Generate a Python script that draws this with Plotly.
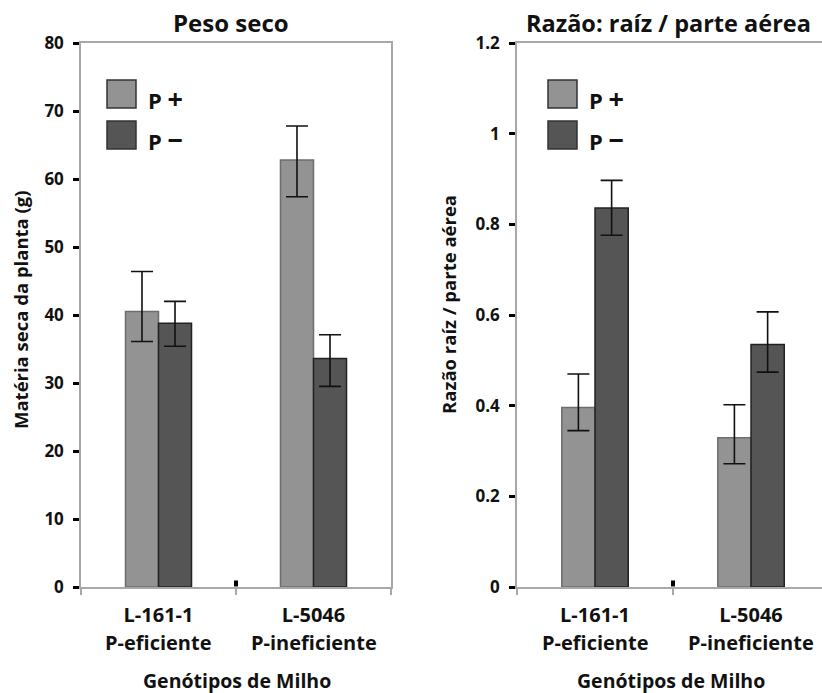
import plotly.graph_objects as go

# ---------------- data ----------------
genotypes = ["L-161-1", "L-5046"]
genotype_sub = ["P-eficiente", "P-ineficiente"]
series_names = ["P <span style='font-size:27px'>+</span>", "P <span style='font-size:27px'>−</span>"]

# Peso seco (g)
dry_p_plus = [40.5, 62.8]
dry_p_plus_up = [5.9, 5.0]
dry_p_plus_dn = [4.4, 5.4]
dry_p_minus = [38.8, 33.6]
dry_p_minus_up = [3.2, 3.5]
dry_p_minus_dn = [3.4, 4.1]

# Razão raíz / parte aérea
ratio_p_plus = [0.396, 0.329]
ratio_p_plus_up = [0.074, 0.073]
ratio_p_plus_dn = [0.051, 0.057]
ratio_p_minus = [0.836, 0.535]
ratio_p_minus_up = [0.061, 0.072]
ratio_p_minus_dn = [0.060, 0.061]

dry_ticks = [0, 10, 20, 30, 40, 50, 60, 70, 80]
ratio_ticks = [0, 0.2, 0.4, 0.6, 0.8, 1, 1.2]
ratio_ticklabels = ["0", "0.2", "0.4", "0.6", "0.8", "1", "1.2"]

# ---------------- style ----------------
W, H = 822, 693
FONT = "Open Sans"
TXT = "#111111"
C_PLUS = "#939393"
C_MINUS = "#555555"
L_PLUS = "#6e6e6e"
L_MINUS = "#222222"
AX = "#a8a8a8"


def px(x):
    return x / W


def py(y):
    return 1 - y / H


yd = [py(587), py(43)]
xd1 = [px(81), px(391)]
xd2 = [px(517), 1.0]

fig = go.Figure()


def add_bars(xa, ya, vals, up, dn, color, line, name):
    fig.add_trace(go.Bar(
        x=genotypes, y=vals, name=name, xaxis=xa, yaxis=ya,
        marker=dict(color=color, line=dict(color=line, width=1.5)),
        error_y=dict(type="data", symmetric=False, array=up, arrayminus=dn,
                     color="#111111", thickness=1.6, width=11),
        showlegend=False,
    ))


add_bars("x", "y", dry_p_plus, dry_p_plus_up, dry_p_plus_dn, C_PLUS, L_PLUS, "P+")
add_bars("x", "y", dry_p_minus, dry_p_minus_up, dry_p_minus_dn, C_MINUS, L_MINUS, "P-")
add_bars("x2", "y2", ratio_p_plus, ratio_p_plus_up, ratio_p_plus_dn, C_PLUS, L_PLUS, "P+")
add_bars("x2", "y2", ratio_p_minus, ratio_p_minus_up, ratio_p_minus_dn, C_MINUS, L_MINUS, "P-")


def bold(s):
    return dict(family=FONT, size=s, color=TXT, weight="bold")


xcommon = dict(type="category", showline=True, linecolor=AX, linewidth=1.5,
               mirror=True, ticks="outside", tickson="boundaries", ticklen=6,
               tickcolor=AX, tickwidth=1.5, showgrid=False, zeroline=False,
               tickfont=bold(20), automargin=False, ticklabelstandoff=9,
               fixedrange=True)
ycommon = dict(showline=True, linecolor=AX, linewidth=1.5, ticks="outside",
               ticklen=6, tickwidth=3, tickcolor="#000000", showgrid=False,
               zeroline=False, tickfont=bold(17), automargin=False,
               ticklabelstandoff=6, fixedrange=True)

fig.update_layout(
    width=W, height=H,
    margin=dict(l=0, r=0, t=0, b=0),
    paper_bgcolor="white", plot_bgcolor="white",
    barmode="group", bargap=0.574, bargroupgap=0,
    showlegend=False,
    font=dict(family=FONT, color=TXT),
    xaxis=dict(domain=xd1, range=[-0.5, 1.5], anchor="y", **xcommon),
    yaxis=dict(domain=yd, range=[0, 80], tickvals=dry_ticks, anchor="x",
               mirror=True, **ycommon),
    xaxis2=dict(domain=xd2, range=[-0.5, 1.455], anchor="y2", **xcommon),
    yaxis2=dict(domain=yd, range=[0, 1.2], tickvals=ratio_ticks,
                ticktext=ratio_ticklabels, anchor="x2", mirror=False, **ycommon),
)

ann = []

# titles
ann.append(dict(text="Peso seco", x=px(231), y=py(22), xref="paper", yref="paper",
                showarrow=False, font=bold(24), xanchor="center", yanchor="middle"))
ann.append(dict(text="Razão: raíz / parte aérea", x=px(668), y=py(23), xref="paper",
                yref="paper", showarrow=False, font=bold(23.5), xanchor="center",
                yanchor="middle"))
# y titles
ann.append(dict(text="Matéria seca da planta (g)", x=px(20), y=py(310), xref="paper",
                yref="paper", showarrow=False, textangle=-90, font=bold(18.5),
                xanchor="center", yanchor="middle"))
ann.append(dict(text="Razão raíz / parte aérea", x=px(448), y=py(305), xref="paper",
                yref="paper", showarrow=False, textangle=-90, font=bold(18.5),
                xanchor="center", yanchor="middle"))
# x titles
ann.append(dict(text="Genótipos de Milho", x=px(237), y=py(680), xref="paper",
                yref="paper", showarrow=False, font=bold(19.5), xanchor="center",
                yanchor="middle"))
ann.append(dict(text="Genótipos de Milho", x=px(671), y=py(680), xref="paper",
                yref="paper", showarrow=False, font=bold(19.5), xanchor="center",
                yanchor="middle"))
# second line of category labels
for xr in ["x", "x2"]:
    for g, sub in zip(genotypes, genotype_sub):
        ann.append(dict(text=sub, x=g, y=py(642), xref=xr, yref="paper",
                        showarrow=False, font=bold(20), xanchor="center",
                        yanchor="middle"))

# legends (swatches + labels), one per panel
shapes = []
for left in [107, 548]:
    for i, (nm, col) in enumerate(zip(series_names, [C_PLUS, C_MINUS])):
        top = 80 + 41 * i
        shapes.append(dict(type="rect", xref="paper", yref="paper",
                           x0=px(left), x1=px(left + 29), y0=py(top + 28), y1=py(top),
                           fillcolor=col, line=dict(color="#333333", width=1.5)))
        ann.append(dict(text=nm, x=px(left + 39), y=py(top + 19), xref="paper",
                        yref="paper", showarrow=False, font=bold(22),
                        xanchor="left", yanchor="middle"))

# small black marks at category boundaries
for xr, yr in [("x", "y domain"), ("x2", "y2 domain")]:
    shapes.append(dict(type="line", xref=xr, yref=yr, x0=0.5, x1=0.5, y0=0.001,
                       y1=0.012, line=dict(color="#000000", width=4)))

fig.update_layout(annotations=ann, shapes=shapes)

fig.write_html("out.html", config={"displayModeBar": False},
               post_script="document.body.style.margin='0';document.body.style.padding='0';")
